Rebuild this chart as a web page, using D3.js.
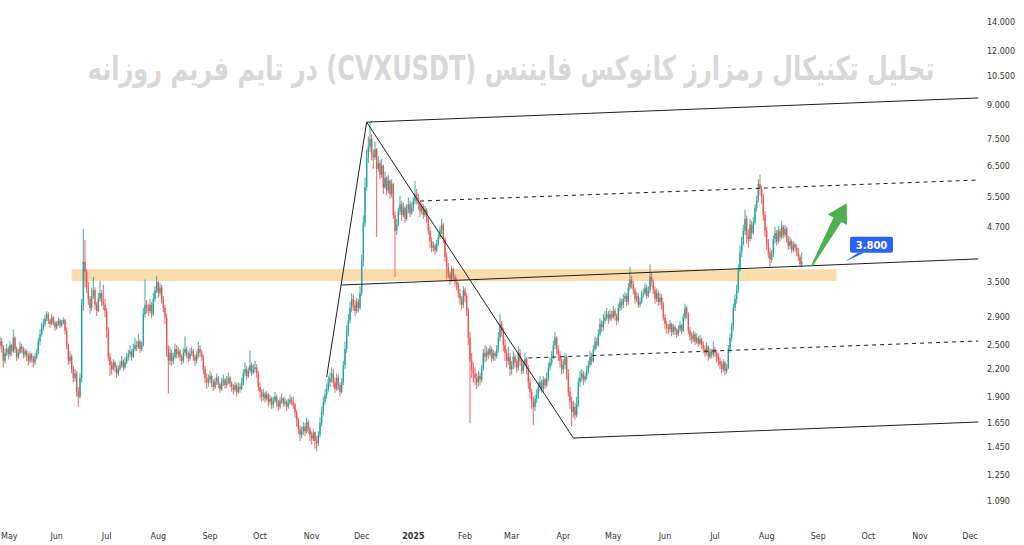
<!DOCTYPE html>
<html><head><meta charset="utf-8">
<script src="https://cdn.jsdelivr.net/npm/d3@7"></script>
<style>body{margin:0;background:#fff}svg{display:block}</style>
</head><body><svg id="c" width="1024" height="545"></svg>
<script>
// ---------- DATA ----------
const startDate = "2024-04-28";   // first daily candle
const firstOpen = 2.50;
const closes = [
2.55,2.48,2.30,2.40,2.45,2.38,2.50,
2.42,2.60,2.45,2.35,2.40,2.48,
2.45,2.38,2.42,2.36,2.30,2.38,2.33,2.28,2.35,
2.40,2.55,2.65,
2.75,2.80,2.88,2.95,2.85,2.80,2.90,2.82,2.75,2.80,2.85,2.78,2.82,2.86,
2.70,2.50,2.30,2.35,2.20,2.10,2.15,
1.95,1.90,
2.10,3.10,3.90,3.70,
3.40,3.20,3.05,3.25,3.35,3.10,3.00,3.20,3.30,3.15,
3.10,3.00,2.70,
2.35,2.25,2.20,2.28,2.22,2.15,2.20,2.25,2.30,2.22,2.28,2.35,
2.38,2.42,2.35,2.45,2.50,2.48,2.55,2.45,2.50,
2.95,3.10,3.05,
3.00,3.10,2.95,3.20,3.35,3.50,3.30,3.40,
3.20,3.05,2.90,
2.45,2.30,
2.40,2.30,2.35,2.45,2.38,2.42,2.35,2.30,2.40,2.45,2.38,2.33,2.40,2.42,2.35,2.30,2.38,2.45,2.40,2.35,
2.20,2.10,2.05,
2.08,2.12,2.05,2.00,2.06,2.10,2.03,1.98,2.05,2.08,2.02,2.06,2.10,2.04,2.00,
1.97,2.02,1.95,2.00,1.98,2.05,
2.15,2.20,2.12,2.18,2.25,2.16,2.20,2.22,2.15,
2.00,1.95,1.90,1.93,1.88,1.92,
1.85,1.88,1.82,1.86,1.90,1.84,1.80,1.86,1.88,1.83,1.85,1.80,1.84,1.87,1.85,
1.82,1.75,1.68,1.60,1.55,1.58,
1.62,1.58,1.66,1.60,1.55,1.52,1.57,1.50,1.48,
1.55,1.65,1.75,1.85,1.92,1.98,2.05,2.10,2.15,
2.05,1.98,2.10,2.02,1.95,2.05,
2.25,2.45,2.70,2.85,3.05,3.20,
3.10,3.00,3.15,3.05,
3.30,3.90,4.80,5.80,6.80,
7.20,7.50,6.90,
6.80,7.10,6.40,6.60,6.20,6.50,
5.80,6.10,5.70,6.00,5.60,5.90,
5.00,4.60,4.75,
5.10,5.30,5.00,5.20,4.90,5.15,5.30,5.05,5.20,
5.40,5.60,5.50,
5.30,5.10,5.25,5.00,5.15,4.90,
4.60,4.35,4.20,
4.25,4.15,4.30,4.45,4.60,4.75,
4.40,4.00,3.80,
3.65,3.55,3.75,3.60,3.50,3.45,
3.30,3.20,3.10,3.35,3.25,3.00,
2.60,2.30,2.20,
2.15,2.10,2.05,2.12,2.08,2.20,
2.40,2.35,2.42,2.38,2.45,2.33,2.40,2.36,2.45,
2.60,2.80,2.70,
2.50,2.40,2.30,2.35,2.20,2.25,
2.35,2.28,2.22,2.40,2.30,2.18,2.25,2.32,2.20,
2.05,1.95,1.85,1.80,1.88,1.92,
2.00,2.05,1.98,2.08,2.02,2.10,
2.22,2.28,2.35,2.50,2.60,2.45,
2.38,2.30,2.20,2.25,2.35,2.15,
1.95,1.85,1.75,1.80,1.72,1.82,
2.05,2.10,2.15,2.08,2.12,2.18,
2.25,2.35,2.30,2.45,2.55,2.50,2.65,2.80,2.75,
2.85,2.90,2.95,
2.88,2.95,2.90,3.00,2.92,2.85,
3.05,3.15,3.10,3.20,3.25,3.15,
3.40,3.55,3.45,
3.35,3.20,3.25,3.10,3.15,3.28,
3.30,3.40,3.25,3.35,3.60,3.50,
3.35,3.20,3.30,3.15,3.22,3.10,
2.90,2.80,2.75,
2.72,2.80,2.68,2.75,2.70,2.65,2.72,2.78,2.70,
2.90,3.05,2.95,
2.70,2.62,2.58,2.65,2.55,2.60,2.52,2.58,2.50,
2.45,2.40,2.48,2.35,2.42,2.38,2.45,2.40,2.35,
2.30,2.25,2.20,2.28,2.18,2.22,
2.45,2.60,2.75,
3.05,3.20,3.35,
3.75,4.10,4.30,
4.60,4.90,4.50,
4.40,4.75,4.55,4.80,5.20,5.40,
5.90,5.75,5.50,
5.00,4.60,4.30,
4.10,3.95,4.05,
4.40,4.55,4.35,4.60,4.45,4.70,4.50,4.65,4.40,
4.25,4.35,4.15,4.28,4.20,4.10,
4.00,3.85,3.90];
const highs = [
2.62,2.60,2.50,2.46,2.52,2.48,2.56,
2.52,2.72,2.62,2.48,2.45,2.55,
2.52,2.48,2.46,2.44,2.40,2.42,2.40,2.36,2.40,
2.45,2.60,2.72,
2.82,2.88,2.94,3.00,2.98,2.88,2.95,2.92,2.85,2.84,2.90,2.88,2.86,2.90,
2.88,2.75,2.52,2.42,2.38,2.24,2.20,
2.18,2.00,
2.15,3.20,4.65,4.38,
3.75,3.50,3.25,3.40,3.60,3.40,3.15,3.30,3.52,3.35,
3.45,3.20,3.05,
2.75,2.40,2.30,2.32,2.30,2.25,2.24,2.30,2.36,2.32,2.34,2.40,
2.44,2.50,2.45,2.52,2.60,2.56,2.65,2.58,2.55,
3.05,3.55,3.18,
3.12,3.20,3.15,3.30,3.42,3.62,3.52,3.48,
3.45,3.25,3.10,
2.95,2.50,
2.48,2.44,2.40,2.52,2.50,2.48,2.45,2.38,2.46,2.62,2.48,2.42,2.46,2.48,2.45,2.38,2.42,2.55,2.50,2.44,
2.38,2.24,2.15,
2.14,2.18,2.15,2.08,2.10,2.15,2.12,2.05,2.10,2.14,2.10,2.12,2.16,2.12,2.06,
2.03,2.06,2.04,2.05,2.04,2.10,
2.20,2.28,2.24,2.22,2.43,2.28,2.26,2.30,2.26,
2.18,2.05,1.98,1.98,1.95,1.96,
1.94,1.92,1.90,1.90,1.95,1.92,1.87,1.90,1.93,1.90,1.89,1.87,1.88,1.92,1.90,
1.90,1.84,1.77,1.70,1.63,1.62,
1.66,1.65,1.70,1.68,1.62,1.58,1.60,1.58,1.54,
1.58,1.70,1.80,1.90,1.98,2.04,2.12,2.16,2.22,
2.20,2.10,2.15,2.14,2.05,2.10,
2.30,2.55,2.78,2.95,3.15,3.30,
3.28,3.18,3.22,3.20,
3.42,4.05,5.00,6.10,7.10,
7.60,8.20,7.70,
7.10,7.40,7.15,6.85,6.70,6.75,
6.55,6.30,6.15,6.20,6.05,6.05,
5.95,5.10,4.90,
5.20,5.55,5.40,5.35,5.25,5.30,5.50,5.40,5.35,
5.50,6.00,5.75,
5.60,5.40,5.35,5.30,5.25,5.20,
4.95,4.70,4.45,
4.35,4.30,4.38,4.52,4.72,4.90,
4.80,4.45,4.10,
3.88,3.70,3.82,3.78,3.65,3.58,
3.50,3.38,3.25,3.42,3.40,3.30,
3.05,2.68,2.40,
2.28,2.22,2.15,2.18,2.16,2.25,
2.45,2.50,2.48,2.46,2.50,2.48,2.44,2.42,2.50,
2.68,2.95,2.85,
2.75,2.58,2.45,2.48,2.40,2.30,
2.42,2.38,2.32,2.48,2.45,2.32,2.30,2.40,2.35,
2.25,2.10,1.98,1.90,1.92,1.98,
2.06,2.12,2.08,2.12,2.10,2.16,
2.28,2.34,2.42,2.56,2.68,2.62,
2.50,2.42,2.34,2.32,2.40,2.38,
2.20,2.00,1.90,1.86,1.84,1.90,
2.10,2.18,2.20,2.18,2.16,2.24,
2.30,2.42,2.40,2.50,2.62,2.60,2.72,2.88,2.85,
2.95,3.00,3.05,
3.00,3.02,3.00,3.08,3.04,2.96,
3.12,3.22,3.20,3.28,3.32,3.30,
3.48,3.80,3.62,
3.52,3.40,3.32,3.30,3.22,3.34,
3.38,3.48,3.45,3.42,3.85,3.68,
3.55,3.42,3.38,3.35,3.30,3.28,
3.15,2.95,2.85,
2.80,2.86,2.82,2.80,2.78,2.74,2.78,2.84,2.80,
2.96,3.12,3.08,
2.98,2.75,2.68,2.70,2.68,2.66,2.62,2.64,2.60,
2.55,2.50,2.54,2.50,2.46,2.45,2.55,2.48,2.44,
2.40,2.34,2.30,2.32,2.30,2.26,
2.50,2.66,2.82,
3.12,3.28,3.45,
3.85,4.25,4.45,
4.75,5.15,5.00,
4.65,4.90,4.85,4.95,5.30,5.55,
6.05,6.20,5.85,
5.60,5.10,4.70,
4.40,4.20,4.15,
4.48,4.70,4.62,4.72,4.65,4.85,4.75,4.75,4.70,
4.48,4.45,4.40,4.35,4.32,4.28,
4.20,4.05,4.10];
const lows = [
2.45,2.40,2.22,2.27,2.36,2.32,2.35,
2.36,2.40,2.40,2.30,2.32,2.38,
2.40,2.33,2.34,2.30,2.24,2.27,2.28,2.22,2.25,
2.32,2.38,2.50,
2.62,2.70,2.76,2.84,2.80,2.74,2.78,2.78,2.70,2.72,2.77,2.74,2.75,2.79,
2.65,2.45,2.25,2.26,2.15,2.05,2.06,
1.90,1.80,
1.88,2.05,3.00,3.40,
3.30,3.10,2.95,3.00,3.20,3.02,2.92,2.98,3.15,3.08,
3.02,2.90,2.60,
2.30,2.12,2.14,2.18,2.16,2.10,2.12,2.18,2.22,2.18,2.20,2.26,
2.30,2.34,2.30,2.33,2.42,2.42,2.45,2.40,2.42,
2.48,2.90,2.96,
2.92,2.96,2.88,2.92,3.15,3.30,3.22,3.25,
3.12,2.98,2.80,
2.35,1.93,
2.25,2.24,2.26,2.32,2.33,2.34,2.30,2.25,2.27,2.36,2.33,2.28,2.30,2.36,2.30,2.24,2.27,2.33,2.35,2.30,
2.14,2.04,1.98,
2.00,2.04,2.00,1.96,1.98,2.02,1.99,1.94,1.96,2.01,1.98,1.99,2.03,2.00,1.95,
1.92,1.95,1.90,1.93,1.94,1.96,
2.02,2.12,2.08,2.10,2.15,2.12,2.14,2.16,2.10,
1.96,1.88,1.85,1.86,1.84,1.86,
1.80,1.82,1.78,1.79,1.84,1.80,1.76,1.78,1.83,1.80,1.80,1.76,1.78,1.82,1.81,
1.78,1.70,1.62,1.56,1.50,1.52,
1.55,1.54,1.56,1.56,1.50,1.47,1.50,1.44,1.42,
1.46,1.53,1.62,1.72,1.82,1.88,1.95,2.00,2.05,
2.00,1.94,1.96,1.97,1.90,1.93,
2.02,2.20,2.40,2.62,2.80,2.98,
3.00,2.92,2.96,2.98,
3.02,3.25,3.80,4.70,5.70,
6.60,7.00,6.70,
6.40,6.70,4.45,6.30,6.05,6.10,
5.60,5.75,5.55,5.62,5.45,5.50,
4.90,3.60,4.50,
4.70,5.00,4.85,4.95,4.80,4.85,5.05,4.95,5.00,
5.10,5.30,5.30,
5.15,4.95,5.02,4.90,4.95,4.80,
4.50,4.20,4.10,
4.12,4.05,4.10,4.25,4.40,4.52,
4.30,3.90,3.55,
3.58,3.45,3.50,3.52,3.42,3.35,
3.22,3.10,3.02,3.05,3.15,2.92,
2.50,1.65,2.10,
2.05,2.02,1.98,2.00,2.02,2.05,
2.18,2.28,2.30,2.32,2.35,2.28,2.30,2.30,2.33,
2.40,2.55,2.62,
2.42,2.30,2.22,2.25,2.12,2.14,
2.20,2.22,2.16,2.18,2.24,2.14,2.15,2.22,2.14,
1.98,1.88,1.78,1.63,1.76,1.84,
1.88,1.96,1.94,1.95,1.98,2.00,
2.06,2.18,2.24,2.32,2.45,2.38,
2.30,2.22,2.14,2.15,2.20,2.08,
1.90,1.78,1.62,1.70,1.68,1.70,
1.80,2.00,2.06,2.02,2.05,2.08,
2.15,2.22,2.25,2.28,2.42,2.45,2.48,2.62,2.68,
2.70,2.80,2.85,
2.80,2.84,2.85,2.88,2.85,2.78,
2.82,3.00,3.02,3.05,3.15,3.08,
3.10,3.35,3.38,
3.28,3.12,3.15,3.05,3.06,3.12,
3.22,3.26,3.20,3.22,3.30,3.42,
3.28,3.12,3.15,3.08,3.10,3.02,
2.85,2.72,2.66,
2.65,2.68,2.62,2.64,2.64,2.60,2.62,2.68,2.65,
2.68,2.85,2.88,
2.65,2.56,2.52,2.54,2.50,2.52,2.48,2.50,2.45,
2.40,2.35,2.37,2.30,2.32,2.33,2.35,2.35,2.28,
2.24,2.20,2.15,2.17,2.13,2.15,
2.20,2.40,2.55,
2.70,3.00,3.12,
3.30,3.70,4.00,
4.25,4.50,4.30,
4.20,4.35,4.40,4.50,4.75,5.10,
5.35,5.55,5.30,
4.85,4.45,4.15,
3.98,3.78,3.88,
4.00,4.30,4.25,4.30,4.35,4.40,4.42,4.45,4.32,
4.15,4.18,4.08,4.10,4.12,4.02,
3.92,3.80,3.80];

const yTicks = [1.09,1.25,1.45,1.65,1.9,2.2,2.5,2.9,3.5,4.7,5.5,6.5,7.5,9,10.5,12,14];
const xTickDates = ["2024-05-01","2024-06-01","2024-07-01","2024-08-01","2024-09-01","2024-10-01","2024-11-01","2024-12-01",
  "2025-01-01","2025-02-01","2025-03-01","2025-04-01","2025-05-01","2025-06-01","2025-07-01","2025-08-01","2025-09-01","2025-10-01","2025-11-01","2025-12-01"];
const xTickLabels = ["May","Jun","Jul","Aug","Sep","Oct","Nov","Dec","2025","Feb","Mar","Apr","May","Jun","Jul","Aug","Sep","Oct","Nov","Dec"];

// drawings in (date, price)
const solidLines = [
  [["2024-11-10",2.11],["2024-12-04",8.21]],
  [["2024-12-04",8.21],["2025-12-06",9.34]],
  [["2024-12-04",8.21],["2025-04-07",1.524]],
  [["2025-04-07",1.524],["2025-12-06",1.66]],
  [["2024-11-19",3.445],["2025-12-06",3.96]]
];
const dashedLines = [
  [["2025-01-05",5.39],["2025-12-06",6.03]],
  [["2025-03-11",2.335],["2025-12-06",2.556]]
];
const zoneDates = ["2024-06-10","2025-09-12"];
const zonePrices = [3.52,3.75];
const arrowPoints = [["2025-08-28",3.81],["2025-09-18",5.33]];
const calloutAnchor = ["2025-09-17",3.9];
const calloutText = "3.800";
const titleText = "تحلیل تکنیکال رمزارز کانوکس فایننس (CVXUSDT) در تایم فریم روزانه";

// ---------- CHART ----------
const svg = d3.select("#c");
const P = d => new Date(d + "T00:00:00Z");
const x = d3.scaleUtc().domain([P("2024-05-01"), P("2025-12-01")]).range([5, 970]);
const y = d3.scaleLog().domain([14, 1.09]).range([22, 500.9]);
const pt = ([d, v]) => [x(P(d)), y(v)];

// title (stretched vertically to resemble the taller reference typeface)
const titleG = svg.append("g").attr("transform", "translate(511,80) scale(1,1.38)");
const title = titleG.append("text")
  .attr("x", 0).attr("y", 0)
  .attr("text-anchor", "middle")
  .attr("direction", "rtl")
  .style("font-family", "'DejaVu Sans', sans-serif")
  .style("font-weight", "bold")
  .style("font-size", "30px")
  .attr("fill", "#d8d8d8")
  .text(titleText);
const tw = title.node().getComputedTextLength();
title.style("font-size", (30 * 847 / tw) + "px");

// zone
svg.append("rect")
  .attr("x", x(P(zoneDates[0]))).attr("width", x(P(zoneDates[1])) - x(P(zoneDates[0])))
  .attr("y", y(zonePrices[1])).attr("height", y(zonePrices[0]) - y(zonePrices[1]))
  .attr("fill", "#f9d8a6").attr("opacity", 0.9);

// candles
const day = 86400000;
const t0 = P(startDate).getTime();
const candles = closes.map((c, i) => ({
  date: new Date(t0 + i * day),
  open: i === 0 ? firstOpen : closes[i - 1],
  close: c, high: highs[i], low: lows[i]
}));
const up = "#26a69a", dn = "#ef5350";
const g = svg.append("g");
g.selectAll("line.w").data(candles).join("line")
  .attr("x1", d => x(d.date)).attr("x2", d => x(d.date))
  .attr("y1", d => y(d.high)).attr("y2", d => y(d.low))
  .attr("stroke", d => d.close >= d.open ? up : dn).attr("stroke-width", 0.9);
g.selectAll("rect").data(candles).join("rect")
  .attr("x", d => x(d.date) - 0.7).attr("width", 1.4)
  .attr("y", d => y(Math.max(d.open, d.close)))
  .attr("height", d => Math.max(0.8, Math.abs(y(d.open) - y(d.close))))
  .attr("fill", d => d.close >= d.open ? up : dn);

// lines
const line = d3.line();
solidLines.forEach(s => svg.append("path").attr("d", line(s.map(pt)))
  .attr("stroke", "#1e1e1e").attr("stroke-width", 1).attr("fill", "none"));
dashedLines.forEach(s => svg.append("path").attr("d", line(s.map(pt)))
  .attr("stroke", "#1e1e1e").attr("stroke-width", 1).attr("stroke-dasharray", "4,4").attr("fill", "none"));

// arrow
{
  const [p0, p1] = arrowPoints.map(pt);
  const dx = p1[0] - p0[0], dy = p1[1] - p0[1], L = Math.hypot(dx, dy);
  const u = [dx / L, dy / L], n = [-u[1], u[0]];
  const hl = 19, hw = 11;
  const hb = [p1[0] - u[0] * hl, p1[1] - u[1] * hl];
  const o = (p, k) => [p[0] + n[0] * k, p[1] + n[1] * k];
  const poly = [o(p0, 0.8), o(hb, 4.5), o(hb, hw), p1, o(hb, -hw), o(hb, -4.5), o(p0, -0.8)];
  svg.append("path").attr("d", "M" + poly.map(p => p.join(",")).join("L") + "Z").attr("fill", "#4caf50");
}

// callout
{
  const a = pt(calloutAnchor);
  const bx = a[0] + 5, by = a[1] - 25, bw = 43, bh = 16;
  svg.append("path").attr("d", `M${a[0]},${a[1]}L${bx + 8},${by + bh}L${bx + 14},${by + bh}Z`).attr("fill", "#2962ff");
  svg.append("rect").attr("x", bx).attr("y", by).attr("width", bw).attr("height", bh).attr("rx", 2).attr("fill", "#2962ff");
  svg.append("text").attr("x", bx + bw / 2).attr("y", by + 12).attr("text-anchor", "middle")
    .style("font-family", "'DejaVu Sans', sans-serif").style("font-size", "10px").style("font-weight", "bold")
    .attr("fill", "#fff").text(calloutText);
}

// y axis
svg.append("g").selectAll("text").data(yTicks).join("text")
  .attr("x", 987).attr("y", d => y(d) + 3)
  .style("font-family", "'DejaVu Sans', sans-serif").style("font-size", "8px")
  .attr("fill", "#333").text(d => d3.format(".3f")(d));

// x axis
svg.append("g").selectAll("text").data(xTickDates).join("text")
  .attr("x", (d, i) => i === 0 ? 1 : x(P(d)))
  .attr("y", 539)
  .attr("text-anchor", (d, i) => i === 0 ? "start" : "middle")
  .style("font-family", "'DejaVu Sans', sans-serif").style("font-size", "8px")
  .style("font-weight", (d, i) => xTickLabels[i] === "2025" ? "bold" : "normal")
  .attr("fill", "#333").text((d, i) => xTickLabels[i]);
</script></body></html>
